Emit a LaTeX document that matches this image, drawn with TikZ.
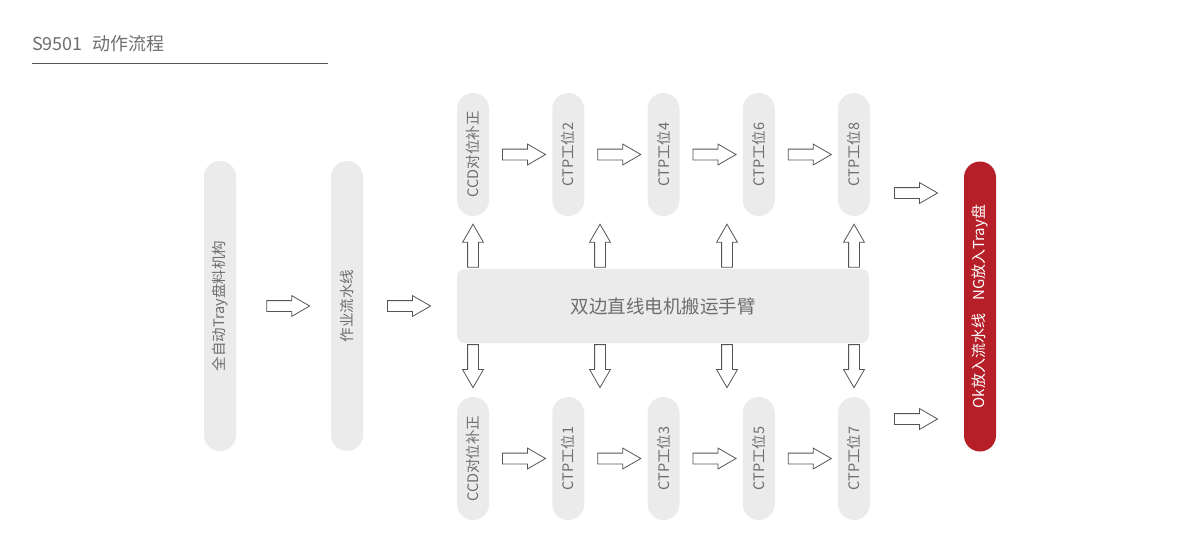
\documentclass[tikz,border=0pt]{standalone}
\usepackage{fontspec}
\setmainfont{Noto Sans CJK SC}
\usepackage{tikz}
\usetikzlibrary{shapes.arrows,positioning,calc}

\definecolor{pillgray}{HTML}{EBEBEB}
\definecolor{textgray}{HTML}{6E6E6E}
\definecolor{arrowgray}{HTML}{555555}
\definecolor{outred}{HTML}{B61E28}

\begin{document}
\begin{tikzpicture}[x=1pt,y=-1pt,node distance=95.25pt]
\tikzstyle{pill}=[rectangle,rounded corners=16pt,fill=pillgray,text=textgray,inner sep=0pt,
  minimum width=32pt,minimum height=290pt,font=\fontsize{14.5}{14.5}\selectfont]
\tikzstyle{station}=[pill,minimum height=123pt]
\tikzstyle{arm}=[rectangle,rounded corners=8pt,fill=pillgray,text=textgray,
  minimum width=412pt,minimum height=74pt,font=\fontsize{18.5}{18.5}\selectfont]
\tikzstyle{fat}=[single arrow,draw=arrowgray,fill=white,line width=0.8pt,
  inner xsep=0pt,inner ysep=5pt,minimum height=43pt,minimum width=20pt,
  single arrow head extend=5pt,single arrow tip angle=60,sloped]

\useasboundingbox (0,0) rectangle (1200,544);

% title
\node[anchor=west,text=textgray,inner sep=0pt,font=\fontsize{18}{18}\selectfont] (title) at (32,44) {S9501\hspace{10pt}动作流程};
\draw[arrowgray,line width=0.8pt] (32,63) -- (328,63);

% feeding side
\node[pill] (tray) at (220,306) {\rotatebox{90}{全自动Tray盘料机构}};
\node[pill,right of=tray,node distance=127pt] (line) {\rotatebox{90}{作业流水线}};
\node[arm] (arm) at (663,306) {双边直线电机搬运手臂};

% upper stations
\node[station] (ccdA) at (473,154.5) {\rotatebox{90}{CCD对位补正}};
\node[station,right of=ccdA] (ctp2) {\rotatebox{90}{CTP工位2}};
\node[station,right of=ctp2] (ctp4) {\rotatebox{90}{CTP工位4}};
\node[station,right of=ctp4] (ctp6) {\rotatebox{90}{CTP工位6}};
\node[station,right of=ctp6] (ctp8) {\rotatebox{90}{CTP工位8}};

% lower stations
\node[station] (ccdB) at (473,458.5) {\rotatebox{90}{CCD对位补正}};
\node[station,right of=ccdB] (ctp1) {\rotatebox{90}{CTP工位1}};
\node[station,right of=ctp1] (ctp3) {\rotatebox{90}{CTP工位3}};
\node[station,right of=ctp3] (ctp5) {\rotatebox{90}{CTP工位5}};
\node[station,right of=ctp5] (ctp7) {\rotatebox{90}{CTP工位7}};

% output
\node[pill,fill=outred,text=white,font=\fontsize{15}{15}\selectfont] (out) at (980,306.5) {\rotatebox{90}{Ok放入流水线\hspace{13pt}NG放入Tray盘}};

% arm columns and output rows
\coordinate (col1) at (ccdA);
\coordinate (col2) at ($(ccdA)!1/3!(ctp8)$);
\coordinate (col3) at ($(ccdA)!2/3!(ctp8)$);
\coordinate (col4) at (ctp8);
\coordinate (ngrow) at (0,193);
\coordinate (okrow) at (0,419);

\path
(tray) -- node[fat,pos=.5]{} (line)
(line) -- node[fat,pos=.44]{} (arm)
(ccdA) -- node[fat,pos=.48]{} (ctp2)
(ctp2) -- node[fat,pos=.48]{} (ctp4)
(ctp4) -- node[fat,pos=.48]{} (ctp6)
(ctp6) -- node[fat,pos=.48]{} (ctp8)
(ccdB) -- node[fat,pos=.48]{} (ctp1)
(ctp1) -- node[fat,pos=.48]{} (ctp3)
(ctp3) -- node[fat,pos=.48]{} (ctp5)
(ctp5) -- node[fat,pos=.48]{} (ctp7)
;
\foreach \c in {col1,col2,col3,col4}
  \path
  (arm.north -| \c) -- node[fat,pos=.35]{} (ccdA.south -| \c)
  (arm.south -| \c) -- node[fat,pos=.34]{} (ccdB.north -| \c);
\path
(ctp8.east |- ngrow) -- node[fat,pos=.44]{} (out.west |- ngrow)
(ctp7.east |- okrow) -- node[fat,pos=.44]{} (out.west |- okrow)
;
\end{tikzpicture}
\end{document}
